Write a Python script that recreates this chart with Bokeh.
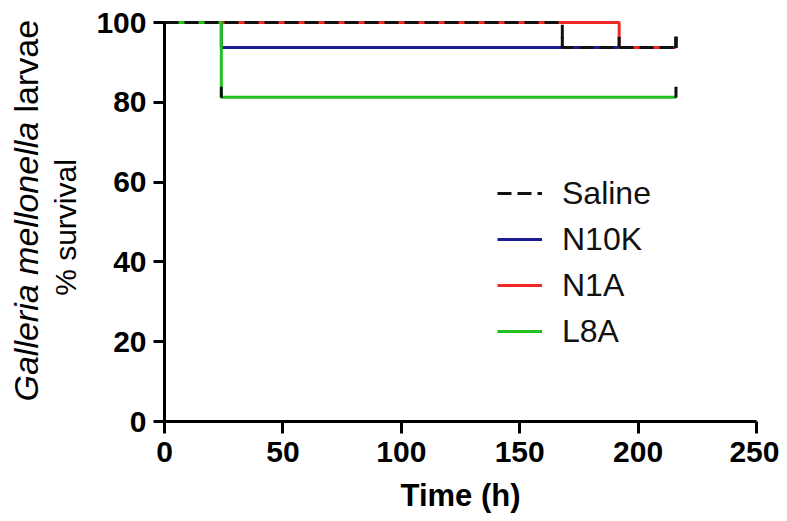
import math
from bokeh.plotting import figure
from bokeh.models import Range1d, Label, Legend, LegendItem, FixedTicker
from bokeh.embed import file_html
from bokeh.resources import INLINE

# ---- data (Kaplan-Meier steps) ----
x_ticks = [0, 50, 100, 150, 200, 250]
y_ticks = [0, 20, 40, 60, 80, 100]

saline_t = [0, 168, 216]
saline_s = [100, 93.75, 93.75]
saline_cens_t = [168, 216]
saline_cens_s = [93.75, 93.75]

n10k_t = [0, 24, 216]
n10k_s = [100, 93.75, 93.75]
n10k_cens_t = [216]
n10k_cens_s = [93.75]

n1a_t = [0, 192, 216]
n1a_s = [100, 93.75, 93.75]
n1a_cens_t = [192, 216]
n1a_cens_s = [93.75, 93.75]

l8a_t = [0, 24, 216]
l8a_s = [100, 81.25, 81.25]
l8a_cens_t = [24, 216]
l8a_cens_s = [81.25, 81.25]

FONT = "Liberation Sans"

# ---- layout: the frame fills the canvas, axes are pinned at the origin ----
W, H = 779, 513
X0_PX, X250_PX = 164, 756      # canvas x of t=0 and t=250
Y0_PX, Y100_PX = 421, 22       # canvas y of 0 % and 100 %
PX_X = (X250_PX - X0_PX) / 250.0
PX_Y = (Y0_PX - Y100_PX) / 100.0

def dx(px):   # canvas pixel x -> data x
    return (px - X0_PX) / PX_X

def dy(py):   # canvas pixel y -> data y
    return (Y0_PX - py) / PX_Y

p = figure(width=W, height=H, output_backend="svg", toolbar_location=None,
           x_range=Range1d(dx(0), dx(W)), y_range=Range1d(dy(H), dy(0)),
           min_border=0, min_border_left=0, min_border_right=0,
           min_border_top=0, min_border_bottom=0)
p.outline_line_color = None
p.grid.visible = False
p.background_fill_color = "white"
p.border_fill_color = "white"

for ax in (p.xaxis[0], p.yaxis[0]):
    ax.fixed_location = 0
    ax.axis_line_width = 3
    ax.axis_line_color = "black"
    ax.major_tick_line_width = 3
    ax.major_tick_line_color = "black"
    ax.major_tick_in = 0
    ax.minor_tick_line_color = None
    ax.major_label_text_font = FONT
    ax.major_label_text_font_style = "bold"
    ax.major_label_text_font_size = "30px"
    ax.major_label_text_color = "black"

p.xaxis.ticker = FixedTicker(ticks=x_ticks)
p.yaxis.ticker = FixedTicker(ticks=y_ticks)
p.xaxis.bounds = (0, 250)
p.yaxis.bounds = (0, 100)
p.xaxis.major_tick_out = 12
p.yaxis.major_tick_out = 11
p.xaxis.major_label_standoff = 8
p.yaxis.major_label_standoff = 7

p.xaxis.axis_label = "Time (h)"
p.xaxis.axis_label_text_font = FONT
p.xaxis.axis_label_text_font_style = "bold"
p.xaxis.axis_label_text_font_size = "31px"
p.xaxis.axis_label_text_color = "black"
p.xaxis.axis_label_standoff = 13

BLUE = "#1c1c92"
RED = "#f02828"
GREEN = "#20c020"
BLACK = "#111111"
LW = 3

r_n10k = p.step(n10k_t, n10k_s, mode="after", line_color=BLUE, line_width=LW)
r_n1a = p.step(n1a_t, n1a_s, mode="after", line_color=RED, line_width=LW)
r_l8a = p.step(l8a_t, l8a_s, mode="after", line_color=GREEN, line_width=LW)
r_sal = p.step(saline_t, saline_s, mode="after", line_color=BLACK, line_width=LW,
               line_dash="14 6")

TICK_OFF = 1.3  # lift censor ticks so they sit above the line
def ticks(ts, ss):
    return p.scatter(ts, [s + TICK_OFF for s in ss], marker="dash", angle=math.pi / 2,
                     size=11, line_color=BLACK, line_width=3)

ticks(n10k_cens_t, n10k_cens_s)
ticks(n1a_cens_t, n1a_cens_s)
ticks(l8a_cens_t, l8a_cens_s)
ticks(saline_cens_t, saline_cens_s)

legend = Legend(items=[
    LegendItem(label="Saline", renderers=[r_sal]),
    LegendItem(label="N10K", renderers=[r_n10k]),
    LegendItem(label="N1A", renderers=[r_n1a]),
    LegendItem(label="L8A", renderers=[r_l8a]),
], location=(497, H - 354))
legend.glyph_width = 45
legend.glyph_height = 46
legend.label_height = 46
legend.label_standoff = 20
legend.spacing = 0
legend.padding = 0
legend.margin = 0
legend.border_line_alpha = 0
legend.background_fill_alpha = 0
legend.label_text_font = FONT
legend.label_text_font_size = "32px"
legend.label_text_color = "#111111"
p.add_layout(legend, "center")

# y-axis title (two lines, partly italic)
YFS1 = 34
w_italic = (8.224 + 0.278) * YFS1       # "Galleria mellonella" + one space
start_px = 401
p.add_layout(Label(x=dx(25), y=dy(start_px), text="Galleria mellonella",
                   angle=math.pi / 2, text_align="left", text_baseline="alphabetic",
                   text_font=FONT, text_font_style="italic",
                   text_font_size=f"{YFS1}px", text_color="black"))
p.add_layout(Label(x=dx(25), y=dy(start_px - w_italic), text="larvae",
                   angle=math.pi / 2, text_align="left", text_baseline="alphabetic",
                   text_font=FONT, text_font_size=f"{YFS1}px", text_color="black"))
p.add_layout(Label(x=dx(65), y=dy(227), text="% survival", angle=math.pi / 2,
                   text_align="center", text_baseline="alphabetic", text_font=FONT,
                   text_font_size="30px", text_color="black"))

open("out.html", "w").write(file_html(p, INLINE))
